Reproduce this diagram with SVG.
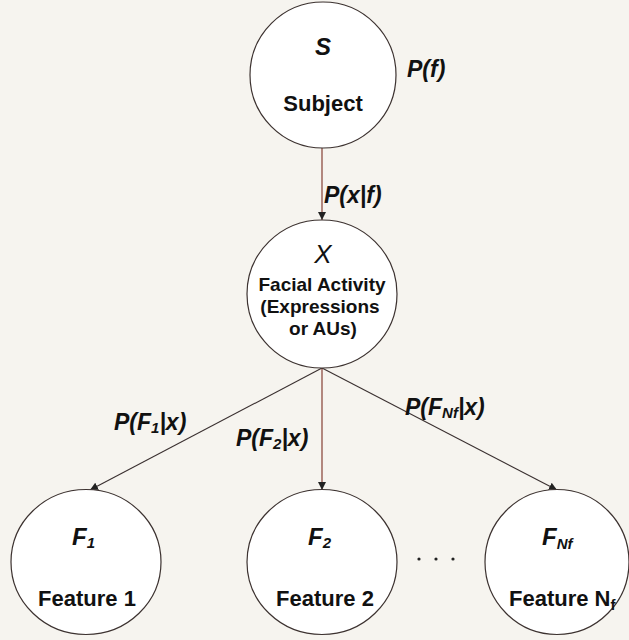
<svg xmlns="http://www.w3.org/2000/svg" width="629" height="640" viewBox="0 0 629 640">
<defs>
<style>
.node{fill:#ffffff;stroke:#3c3230;stroke-width:1.2}
.edge{fill:none;stroke:#3a3030;stroke-width:1.1}
.edge.v{stroke:#7a2e22}
.t{font-family:"Liberation Sans",Arial,sans-serif;fill:#111}
.name{font-size:22px;font-weight:bold;text-anchor:middle}
.mid{font-size:19px}
.sym{font-size:24px;font-weight:bold;font-style:italic}
.lbl{font-size:23px;font-weight:bold;font-style:italic}
.sub{font-size:15px}
</style>
<marker id="arr" viewBox="0 0 10 10" refX="10" refY="5" markerWidth="8" markerHeight="8" markerUnits="userSpaceOnUse" orient="auto">
<path d="M0,0 L10,5 L0,10 z" fill="#222"/>
</marker>
</defs>
<rect width="629" height="640" fill="#f6f4ef"/>
<g id="edges">
<line class="edge v" x1="322" y1="148" x2="322" y2="220" marker-end="url(#arr)"/>
<line class="edge" x1="322" y1="368" x2="90" y2="490" marker-end="url(#arr)"/>
<line class="edge v" x1="322" y1="368" x2="322" y2="490" marker-end="url(#arr)"/>
<line class="edge" x1="322" y1="368" x2="557" y2="490" marker-end="url(#arr)"/>
<text class="t lbl" x="407" y="77">P(f)</text>
<text class="t lbl" x="324" y="203">P(x|f)</text>
<text class="t lbl" x="114" y="430">P(F<tspan class="sub" dy="3">1</tspan><tspan dy="-3">|x)</tspan></text>
<text class="t lbl" x="236" y="446">P(F<tspan class="sub" dy="3">2</tspan><tspan dy="-3">|x)</tspan></text>
<text class="t lbl" x="405" y="415">P(F<tspan class="sub" dy="3">Nf</tspan><tspan dy="-3">|x)</tspan></text>
</g>
<g id="node-S">
<circle class="node" cx="323" cy="75" r="73"/>
<text class="t sym" x="323" y="55" text-anchor="middle">S</text>
<text class="t name" x="323" y="111">Subject</text>
</g>
<g id="node-X">
<ellipse class="node" cx="322" cy="294" rx="75" ry="74"/>
<text class="t" x="323" y="263" text-anchor="middle" font-size="26" font-style="italic">X</text>
<text class="t name mid" x="322" y="291">Facial Activity</text>
<text class="t name mid" x="320" y="313">(Expressions</text>
<text class="t name mid" x="323" y="335">or AUs)</text>
</g>
<g id="node-F1">
<ellipse class="node" cx="86" cy="562" rx="75" ry="72.5"/>
<text class="t sym" x="72" y="545">F<tspan class="sub" dy="3">1</tspan></text>
<text class="t name" x="87" y="606">Feature 1</text>
</g>
<g id="node-F2">
<ellipse class="node" cx="322" cy="562" rx="75" ry="72.5"/>
<text class="t sym" x="308" y="545">F<tspan class="sub" dy="3">2</tspan></text>
<text class="t name" x="325" y="606">Feature 2</text>
</g>
<g id="dots">
<circle cx="419" cy="559" r="1.6" fill="#222"/>
<circle cx="436" cy="559" r="1.6" fill="#222"/>
<circle cx="453" cy="559" r="1.6" fill="#222"/>
</g>
<g id="node-FNf">
<ellipse class="node" cx="557" cy="562" rx="72" ry="72.5"/>
<text class="t sym" x="542" y="545">F<tspan class="sub" dy="4">Nf</tspan></text>
<text class="t" x="509" y="606" font-size="22" font-weight="bold">Feature N<tspan class="sub" dy="4">f</tspan></text>
</g>
</svg>
